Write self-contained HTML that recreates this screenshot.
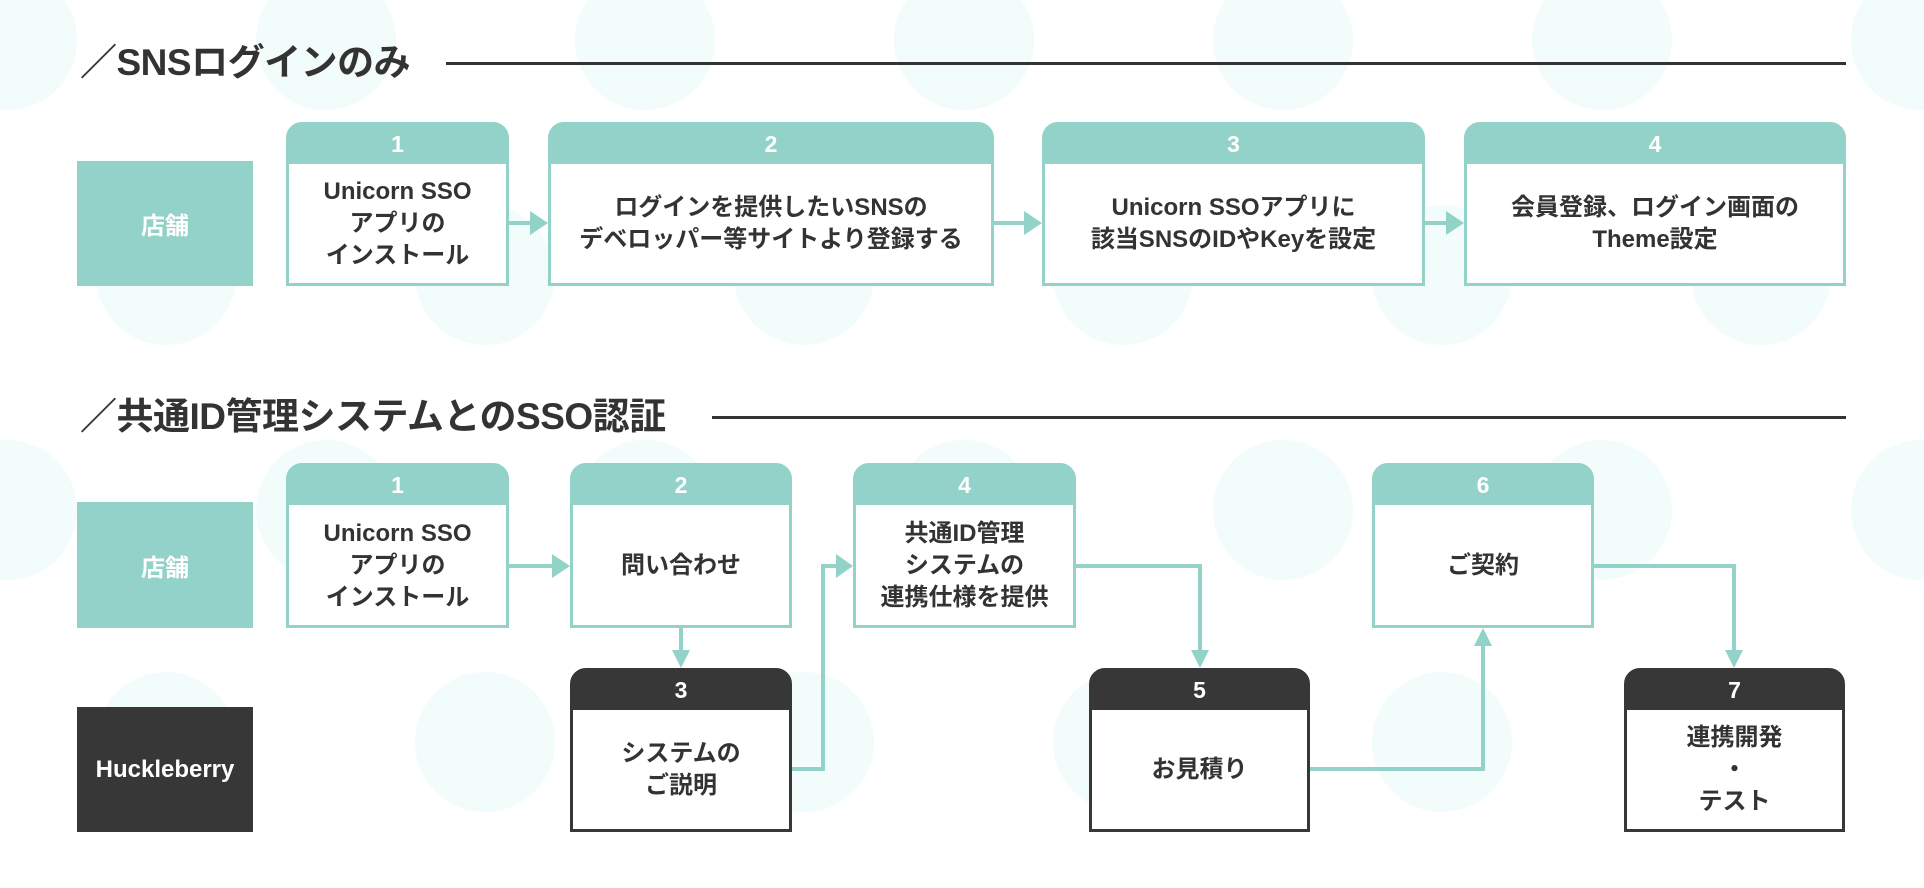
<!DOCTYPE html>
<html><head><meta charset="utf-8"><style>
body{margin:0;width:1924px;height:888px;position:relative;overflow:hidden;background:#fff;font-family:"Liberation Sans","Noto Sans CJK JP",sans-serif;}
.c{position:absolute;width:140px;height:140px;border-radius:50%;background:#f2fcfa;}
.t{position:absolute;left:80px;font-size:37px;font-weight:bold;color:#333;line-height:44px;white-space:nowrap;letter-spacing:-0.5px;}
.ln{position:absolute;height:3px;background:#333;}
.lab{position:absolute;width:176px;display:flex;align-items:center;justify-content:center;color:#fff;font-weight:bold;font-size:24px;}
.b{position:absolute;box-sizing:border-box;border:3px solid #93d2c8;border-radius:16px 16px 0 0;background:#fff;}
.b.d{border-color:#373737;}
.b .h{height:40px;background:#93d2c8;color:#fff;font-weight:bold;font-size:23px;display:flex;align-items:center;justify-content:center;border-radius:12px 12px 0 0;margin:-1px -1px 0 -1px;}
.b.d .h{background:#373737;}
.b .x{position:absolute;left:0;right:0;top:40px;bottom:0;display:flex;align-items:center;justify-content:center;text-align:center;font-weight:bold;font-size:24px;line-height:32px;color:#333;white-space:nowrap;}
svg{position:absolute;left:0;top:0;}
</style></head><body>
<div class="c" style="left:-63px;top:-30px"></div><div class="c" style="left:256px;top:-30px"></div><div class="c" style="left:575px;top:-30px"></div><div class="c" style="left:894px;top:-30px"></div><div class="c" style="left:1213px;top:-30px"></div><div class="c" style="left:1532px;top:-30px"></div><div class="c" style="left:1851px;top:-30px"></div>
<div class="c" style="left:96px;top:205px"></div><div class="c" style="left:415px;top:205px"></div><div class="c" style="left:734px;top:205px"></div><div class="c" style="left:1053px;top:205px"></div><div class="c" style="left:1372px;top:205px"></div><div class="c" style="left:1691px;top:205px"></div>
<div class="c" style="left:-63px;top:440px"></div><div class="c" style="left:256px;top:440px"></div><div class="c" style="left:575px;top:440px"></div><div class="c" style="left:894px;top:440px"></div><div class="c" style="left:1213px;top:440px"></div><div class="c" style="left:1532px;top:440px"></div><div class="c" style="left:1851px;top:440px"></div>
<div class="c" style="left:96px;top:672px"></div><div class="c" style="left:415px;top:672px"></div><div class="c" style="left:734px;top:672px"></div><div class="c" style="left:1053px;top:672px"></div><div class="c" style="left:1372px;top:672px"></div><div class="c" style="left:1691px;top:672px"></div>

<div class="t" style="top:41px">／SNSログインのみ</div>
<div class="ln" style="left:446px;width:1400px;top:62px"></div>
<div class="t" style="top:395px">／共通ID管理システムとのSSO認証</div>
<div class="ln" style="left:712px;width:1134px;top:416px"></div>

<div class="lab" style="left:77px;top:161px;height:125px;background:#93d2c8">店舗</div>
<div class="lab" style="left:77px;top:502px;height:126px;background:#93d2c8">店舗</div>
<div class="lab" style="left:77px;top:707px;height:125px;background:#373737">Huckleberry</div>

<svg width="1924" height="888">
<g stroke="#93d2c8" stroke-width="4" fill="none">
<line x1="509" y1="223" x2="532" y2="223"/><line x1="994" y1="223" x2="1026" y2="223"/><line x1="1425" y1="223" x2="1448" y2="223"/>
<line x1="509" y1="566" x2="554" y2="566"/>
<line x1="681" y1="628" x2="681" y2="654"/>
<polyline points="792,769 823,769 823,566 838,566"/>
<polyline points="1076,566 1200,566 1200,654"/>
<polyline points="1310,769 1483,769 1483,642"/>
<polyline points="1594,566 1734,566 1734,654"/>
</g>
<g fill="#93d2c8">
<polygon points="530,211 548,223 530,235"/><polygon points="1024,211 1042,223 1024,235"/><polygon points="1446,211 1464,223 1446,235"/>
<polygon points="552,554 570,566 552,578"/>
<polygon points="672,650 681,668 690,650"/>
<polygon points="836,554 853,566 836,578"/>
<polygon points="1191,650 1200,668 1209,650"/>
<polygon points="1474,646 1483,628 1492,646"/>
<polygon points="1725,650 1734,668 1743,650"/>
</g>
</svg>

<div class="b" style="left:286px;top:122px;width:223px;height:164px"><div class="h">1</div><div class="x">Unicorn SSO<br>アプリの<br>インストール</div></div>
<div class="b" style="left:548px;top:122px;width:446px;height:164px"><div class="h">2</div><div class="x">ログインを提供したいSNSの<br>デベロッパー等サイトより登録する</div></div>
<div class="b" style="left:1042px;top:122px;width:383px;height:164px"><div class="h">3</div><div class="x">Unicorn SSOアプリに<br>該当SNSのIDやKeyを設定</div></div>
<div class="b" style="left:1464px;top:122px;width:382px;height:164px"><div class="h">4</div><div class="x">会員登録、ログイン画面の<br>Theme設定</div></div>

<div class="b" style="left:286px;top:463px;width:223px;height:165px"><div class="h">1</div><div class="x">Unicorn SSO<br>アプリの<br>インストール</div></div>
<div class="b" style="left:570px;top:463px;width:222px;height:165px"><div class="h">2</div><div class="x">問い合わせ</div></div>
<div class="b d" style="left:570px;top:668px;width:222px;height:164px"><div class="h">3</div><div class="x">システムの<br>ご説明</div></div>
<div class="b" style="left:853px;top:463px;width:223px;height:165px"><div class="h">4</div><div class="x">共通ID管理<br>システムの<br>連携仕様を提供</div></div>
<div class="b d" style="left:1089px;top:668px;width:221px;height:164px"><div class="h">5</div><div class="x">お見積り</div></div>
<div class="b" style="left:1372px;top:463px;width:222px;height:165px"><div class="h">6</div><div class="x">ご契約</div></div>
<div class="b d" style="left:1624px;top:668px;width:221px;height:164px"><div class="h">7</div><div class="x">連携開発<br>・<br>テスト</div></div>
</body></html>
